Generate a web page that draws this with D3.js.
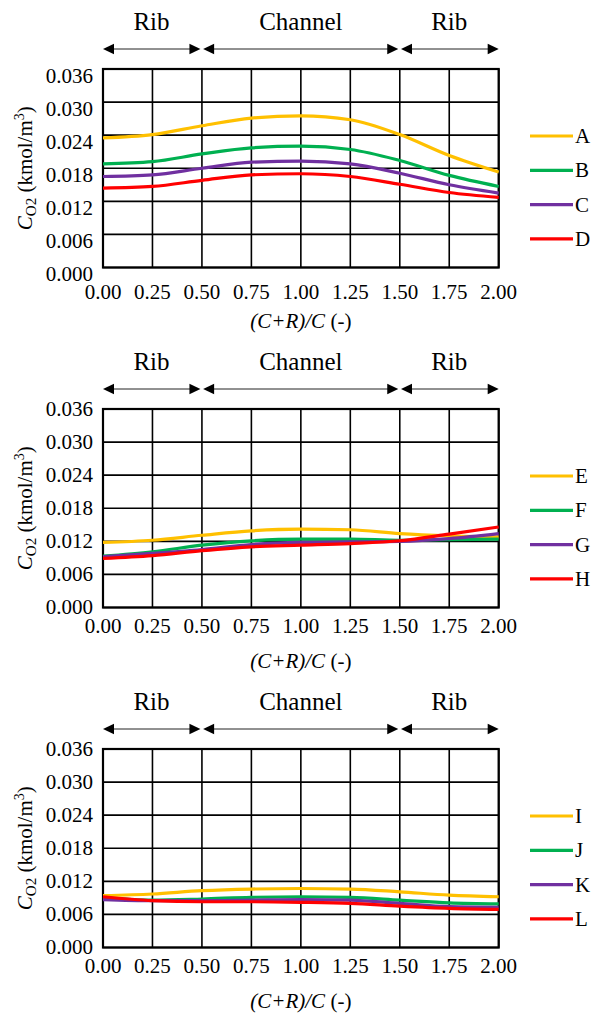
<!DOCTYPE html>
<html>
<head>
<meta charset="utf-8">
<script src="https://cdn.jsdelivr.net/npm/d3@7"></script>
</head>
<body style="margin:0">
<div id="fig"></div>
<script>
// x positions, (C+R)/C
const xValues = [0, 0.25, 0.5, 0.75, 1.0, 1.25, 1.5, 1.75, 2.0];
const xTicks = [0, 0.25, 0.5, 0.75, 1.0, 1.25, 1.5, 1.75, 2.0];
const yTicks = [0, 0.006, 0.012, 0.018, 0.024, 0.03, 0.036];

const colors = ['#FFC000', '#00B050', '#7030A0', '#FF0000'];

// regions along the top of each panel
const regions = [
  { label: 'Rib', from: 0, to: 0.5 },
  { label: 'Channel', from: 0.5, to: 1.5 },
  { label: 'Rib', from: 1.5, to: 2.0 }
];

// panel 1
const seriesA = [0.0235, 0.0241, 0.0257, 0.0271, 0.0275, 0.0268, 0.0241, 0.0203, 0.0173];
const seriesB = [0.0188, 0.0192, 0.0206, 0.0217, 0.0220, 0.0214, 0.0194, 0.0167, 0.0147];
const seriesC = [0.0165, 0.0168, 0.0180, 0.0191, 0.0193, 0.0188, 0.0171, 0.0150, 0.0135];
const seriesD = [0.0144, 0.0147, 0.0158, 0.0168, 0.0170, 0.0165, 0.0151, 0.0136, 0.0127];

// panel 2
const seriesE = [0.0118, 0.0122, 0.0131, 0.0139, 0.0142, 0.0141, 0.0134, 0.0130, 0.0128];
const seriesF = [0.0093, 0.0101, 0.0113, 0.0121, 0.0124, 0.0124, 0.0122, 0.0123, 0.0124];
const seriesG = [0.0092, 0.0098, 0.0105, 0.0114, 0.0118, 0.0119, 0.0120, 0.0125, 0.0134];
const seriesH = [0.0089, 0.0094, 0.0103, 0.0110, 0.0113, 0.0116, 0.0121, 0.0133, 0.0146];

// panel 3
const seriesI = [0.0094, 0.0097, 0.0103, 0.0106, 0.0107, 0.0106, 0.0101, 0.0095, 0.0092];
const seriesJ = [0.0090, 0.0086, 0.0088, 0.0091, 0.0092, 0.0091, 0.0086, 0.0081, 0.0079];
const seriesK = [0.0087, 0.0085, 0.0085, 0.0086, 0.0087, 0.0086, 0.0080, 0.0074, 0.0073];
const seriesL = [0.0092, 0.0085, 0.0083, 0.0083, 0.0082, 0.0080, 0.0075, 0.0071, 0.0069];

const panels = [
  { top: 69, names: ['A', 'B', 'C', 'D'], series: [seriesA, seriesB, seriesC, seriesD], yLabelShift: 7, xLabelGap: 25 },
  { top: 409, names: ['E', 'F', 'G', 'H'], series: [seriesE, seriesF, seriesG, seriesH], yLabelShift: 0, xLabelGap: 19 },
  { top: 749, names: ['I', 'J', 'K', 'L'], series: [seriesI, seriesJ, seriesK, seriesL], yLabelShift: 0, xLabelGap: 19 }
];

const width = 595, height = 1014;
const left = 103, right = 498.7, plotH = 198.5;
const FONT = "'Liberation Serif', 'Times New Roman', serif";

const svg = d3.select('#fig').append('svg')
  .attr('width', width)
  .attr('height', height);

svg.append('rect').attr('width', width).attr('height', height).attr('fill', '#fff');

const x = d3.scaleLinear().domain([0, 2]).range([left, right]);

// every text gets the serif face through an inline style
function addText(g, size) {
  return g.append('text')
    .style('font-family', FONT)
    .style('font-size', size + 'px')
    .attr('fill', '#000');
}

function drawArrowHead(g, tipX, y, dir) {
  // dir = -1 points left, 1 points right
  const len = 11, half = 5.3;
  g.append('path')
    .attr('d', `M${tipX},${y} L${tipX - dir * len},${y - half} L${tipX - dir * len},${y + half} Z`)
    .attr('fill', '#000');
}

function drawPanel(p) {
  const y = d3.scaleLinear().domain([0, 0.036]).range([p.top + plotH, p.top]);
  const g = svg.append('g');

  // grid
  g.selectAll('.vgrid').data(xTicks).enter().append('line')
    .attr('x1', d => x(d)).attr('x2', d => x(d))
    .attr('y1', y(0)).attr('y2', y(0.036))
    .attr('stroke', '#000').attr('stroke-width', 1.6);
  g.selectAll('.hgrid').data(yTicks).enter().append('line')
    .attr('x1', x(0)).attr('x2', x(2))
    .attr('y1', d => y(d)).attr('y2', d => y(d))
    .attr('stroke', '#000').attr('stroke-width', 1.6);
  g.append('rect')
    .attr('x', x(0)).attr('y', y(0.036))
    .attr('width', x(2) - x(0)).attr('height', y(0) - y(0.036))
    .attr('fill', 'none').attr('stroke', '#000').attr('stroke-width', 2.2);

  // tick labels
  yTicks.forEach(t => {
    addText(g, 21)
      .attr('x', 93).attr('y', y(t) + p.yLabelShift)
      .attr('dy', '0.33em')
      .attr('text-anchor', 'end')
      .text(d3.format('.3f')(t));
  });
  xTicks.forEach(t => {
    addText(g, 21)
      .attr('x', x(t)).attr('y', y(0) + p.xLabelGap)
      .attr('dy', '0.33em')
      .attr('text-anchor', 'middle')
      .text(d3.format('.2f')(t));
  });

  // x title
  const xt = addText(g, 21)
    .attr('x', x(1)).attr('y', y(0) + 54)
    .attr('dy', '0.33em')
    .attr('text-anchor', 'middle');
  xt.append('tspan').style('font-style', 'italic').text('(C+R)/C');
  xt.append('tspan').text(' (-)');

  // y title
  const cy = (y(0) + y(0.036)) / 2;
  const yt = addText(g, 21)
    .attr('transform', `translate(32,${cy}) rotate(-90)`)
    .attr('text-anchor', 'middle');
  yt.append('tspan').style('font-style', 'italic').text('C');
  yt.append('tspan').style('font-size', '15px').attr('dy', 4).text('O2');
  yt.append('tspan').attr('dy', -4).text(' (kmol/m');
  yt.append('tspan').style('font-size', '14px').attr('dy', -8).text('3');
  yt.append('tspan').attr('dy', 8).text(')');

  // region arrows and labels
  const arrowY = p.top - 20;
  regions.forEach((r, i) => {
    const x1 = x(r.from) + (i === 0 ? 0 : 1.2);
    const x2 = x(r.to) - (i === regions.length - 1 ? 0 : 1.5);
    g.append('line')
      .attr('x1', x1 + 4).attr('x2', x2 - 4)
      .attr('y1', arrowY).attr('y2', arrowY)
      .attr('stroke', '#222').attr('stroke-width', 1);
    drawArrowHead(g, x1, arrowY, -1);
    drawArrowHead(g, x2, arrowY, 1);
    addText(g, 25)
      .attr('x', (x(r.from) + x(r.to)) / 2 - (i === 0 ? 1 : 0))
      .attr('y', p.top - 47)
      .attr('dy', '0.33em')
      .attr('text-anchor', 'middle')
      .text(r.label);
  });

  // lines
  const line = d3.line()
    .x((d, i) => x(xValues[i]))
    .y(d => y(d))
    .curve(d3.curveMonotoneX);

  g.selectAll('.series').data(p.series).enter().append('path')
    .attr('d', line)
    .attr('fill', 'none')
    .attr('stroke', (d, i) => colors[i])
    .attr('stroke-width', 3.2);

  // legend
  p.names.forEach((name, i) => {
    const ly = p.top + 67 + i * 34.3;
    g.append('line')
      .attr('x1', 530).attr('x2', 573)
      .attr('y1', ly).attr('y2', ly)
      .attr('stroke', colors[i]).attr('stroke-width', 3.2);
    addText(g, 21)
      .attr('x', 575).attr('y', ly)
      .attr('dy', '0.33em')
      .text(name);
  });
}

panels.forEach(drawPanel);
</script>
</body>
</html>
